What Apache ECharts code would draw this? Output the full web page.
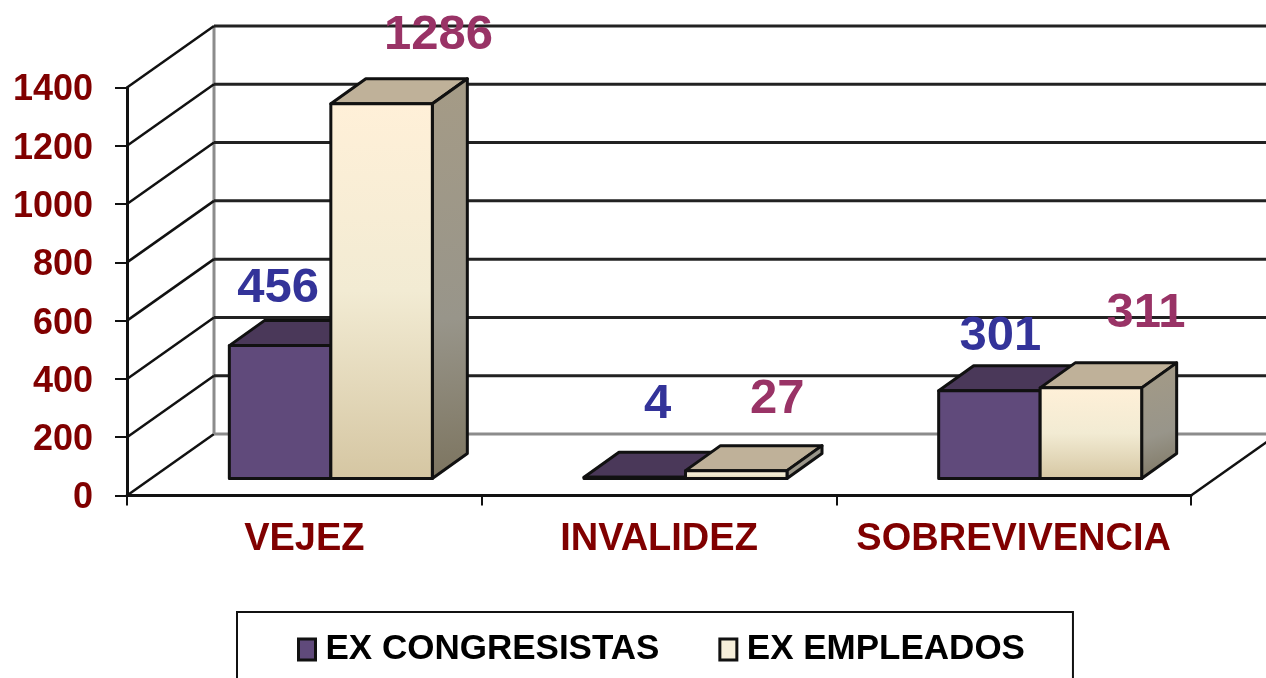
<!DOCTYPE html>
<html>
<head>
<meta charset="utf-8">
<title>Pensiones</title>
<script src="https://cdn.jsdelivr.net/npm/echarts@6/dist/echarts.min.js"></script>
<style>
    html, body { margin: 0; padding: 0; background: #fff; }
    /* the original is a soft upscaled picture */
    #main { width: 1266px; height: 678px; filter: blur(0.6px); }
</style>
</head>
<body>
<div id="main"></div>
<script>
const categories = ['VEJEZ', 'INVALIDEZ', 'SOBREVIVENCIA'];
const seriesNames = ['EX CONGRESISTAS', 'EX EMPLEADOS'];
const congresistas = [456, 4, 301];
const empleados = [1286, 27, 311];
const yTicks = [0, 200, 400, 600, 800, 1000, 1200, 1400];

// the look of the fake 3d, all in pixels
const wallDx = 87, wallDy = -61.5;
const floorDx = 16, floorDy = -17;
const depthDx = 35, depthDy = -25;
const barWidth = 101.5, pairShift = 10.5;

// label offset from the middle of the front top edge of each bar
const labelShift = [
    [[-2, -57], [23, -73], [11, -54]],
    [[57, -68], [41, -71], [55, -74]]
];

const FONT = '"Liberation Sans", Arial, sans-serif';

function vgrad(stops) {
    return new echarts.graphic.LinearGradient(0, 0, 0, 1, stops);
}

const skins = [
    {
        front: '#604a7b',
        top: '#4a3859',
        side: '#4a3859',
        text: '#333399'
    },
    {
        front: vgrad([
            {offset: 0, color: '#fff0d8'},
            {offset: 0.5, color: '#f2ebd3'},
            {offset: 1, color: '#d5c6a2'}
        ]),
        top: '#bfb199',
        side: new echarts.graphic.LinearGradient(0, 0, 1, 1, [
            {offset: 0, color: '#a59b86'},
            {offset: 0.6, color: '#98958a'},
            {offset: 1, color: '#7c745f'}
        ]),
        text: '#993366'
    }
];

function renderWalls(params, api) {
    const v = api.value(0);
    const half = api.size([1, 0])[0] / 2;
    const first = api.coord([0, v]);
    const last = api.coord([categories.length - 1, v]);
    const left = first[0] - half;
    const right = last[0] + half;
    const y = first[1];
    const isFloor = v === 0;
    const line = (x1, y1, x2, y2, stroke, width) => ({
        type: 'line',
        shape: {x1, y1, x2, y2},
        style: {stroke, lineWidth: width}
    });
    const children = [
        line(left, y, left + wallDx, y + wallDy, '#111', 2.5),
        line(left + wallDx, y + wallDy, right + wallDx, y + wallDy, isFloor ? '#8c8c8c' : '#222', 3)
    ];
    if (isFloor) {
        // back corner post and right edge of the floor
        const topY = api.coord([0, yTicks[yTicks.length - 1]])[1];
        children.push(line(left + wallDx, y + wallDy, left + wallDx, topY + wallDy, '#8c8c8c', 3));
        children.push(line(right, y, right + wallDx, y + wallDy, '#111', 2.5));
    }
    return {type: 'group', children};
}

function makeBarRender(idx) {
    return function (params, api) {
        const cat = api.value(0);
        const val = api.value(1);
        const base = api.coord([cat, 0]);
        const head = api.coord([cat, val]);
        const x0 = base[0] + pairShift + floorDx + (idx - 1) * barWidth;
        const x1 = x0 + barWidth;
        const yb = base[1] + floorDy;
        const yt = head[1] + floorDy;
        const skin = skins[idx];
        const edge = {stroke: '#111', lineWidth: 3, lineJoin: 'round'};
        const shift = labelShift[idx][cat];
        return {
            type: 'group',
            children: [
                {
                    type: 'polygon',
                    shape: {points: [[x0, yt], [x0 + depthDx, yt + depthDy], [x1 + depthDx, yt + depthDy], [x1, yt]]},
                    style: Object.assign({fill: skin.top}, edge)
                },
                {
                    type: 'polygon',
                    shape: {points: [[x1, yt], [x1 + depthDx, yt + depthDy], [x1 + depthDx, yb + depthDy], [x1, yb]]},
                    style: Object.assign({fill: skin.side}, edge)
                },
                {
                    type: 'rect',
                    shape: {x: x0, y: yt, width: barWidth, height: yb - yt},
                    style: Object.assign({fill: skin.front}, edge)
                },
                {
                    type: 'text',
                    z2: 100,
                    style: {
                        x: (x0 + x1) / 2 + shift[0],
                        y: yt + shift[1],
                        text: String(val),
                        fill: skin.text,
                        font: 'bold 49px ' + FONT,
                        align: 'center',
                        verticalAlign: 'middle'
                    }
                }
            ]
        };
    };
}

const myChart = echarts.init(document.getElementById('main'), null, {renderer: 'canvas'});

const option = {
    animation: false,
    backgroundColor: '#fff',
    grid: {left: 127, right: 75, top: 87.5, bottom: 182.5, containLabel: false},
    legend: {
        left: 237,
        top: 612,
        padding: [20, 48, 27, 60],
        borderColor: '#111',
        borderWidth: 2,
        itemWidth: 17,
        itemHeight: 21,
        itemGap: 59,
        textStyle: {
            color: '#000',
            fontFamily: FONT,
            fontWeight: 'bold',
            fontSize: 35,
            padding: [0, 0, 0, 5]
        },
        data: [
            {name: seriesNames[0], icon: 'rect', itemStyle: {color: '#604a7b', borderColor: '#111', borderWidth: 3}},
            {name: seriesNames[1], icon: 'rect', itemStyle: {color: '#f5eeda', borderColor: '#111', borderWidth: 3}}
        ]
    },
    xAxis: {
        type: 'category',
        data: categories,
        axisLine: {lineStyle: {color: '#111', width: 3}},
        axisTick: {show: true, interval: 0, length: 10, lineStyle: {color: '#111', width: 2}},
        axisLabel: {
            interval: 0,
            color: '#800000',
            fontFamily: FONT,
            fontWeight: 'bold',
            fontSize: 38,
            margin: 25
        }
    },
    yAxis: {
        type: 'value',
        min: 0,
        max: 1400,
        interval: 200,
        axisLine: {show: true, lineStyle: {color: '#111', width: 3}},
        axisTick: {show: true, length: 12, lineStyle: {color: '#111', width: 2}},
        splitLine: {show: false},
        axisLabel: {
            formatter: v => String(v),
            color: '#800000',
            fontFamily: FONT,
            fontWeight: 'bold',
            fontSize: 36,
            margin: 34,
            // nudges the numbers a little below their ticks, as in the original
            verticalAlign: 'top',
            lineHeight: 6
        }
    },
    series: [
        {
            name: 'walls',
            type: 'custom',
            silent: true,
            renderItem: renderWalls,
            encode: {y: 0},
            data: yTicks.map(v => [v]),
            z: 1
        },
        {
            name: seriesNames[0],
            type: 'custom',
            renderItem: makeBarRender(0),
            encode: {x: 0, y: 1},
            data: congresistas.map((v, i) => [i, v]),
            z: 2
        },
        {
            name: seriesNames[1],
            type: 'custom',
            renderItem: makeBarRender(1),
            encode: {x: 0, y: 1},
            data: empleados.map((v, i) => [i, v]),
            z: 3
        }
    ]
};

myChart.setOption(option);
</script>
</body>
</html>
